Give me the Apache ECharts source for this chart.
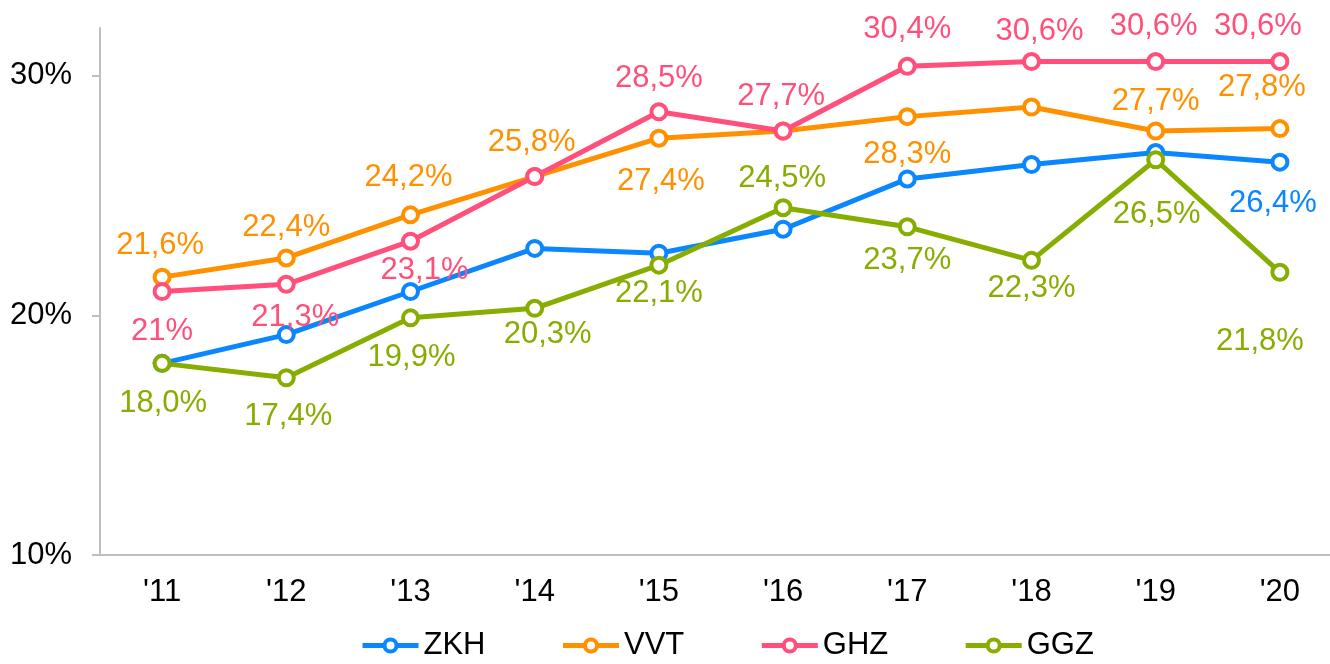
<!DOCTYPE html>
<html>
<head>
<meta charset="utf-8">
<script src="https://cdn.jsdelivr.net/npm/echarts@6/dist/echarts.min.js"></script>
<style>
  html, body { margin: 0; padding: 0; background: #fff; overflow: hidden; }
  #chart { width: 1342px; height: 664px; }
</style>
</head>
<body>
<div id="chart"></div>
<script>
const years = ["'11", "'12", "'13", "'14", "'15", "'16", "'17", "'18", "'19", "'20"]
const zkh = [18.0, 19.2, 21.0, 22.8, 22.6, 23.6, 25.7, 26.3, 26.8, 26.4]
const vvt = [21.6, 22.4, 24.2, 25.8, 27.4, 27.7, 28.3, 28.7, 27.7, 27.8]
const ghz = [21.0, 21.3, 23.1, 25.8, 28.5, 27.7, 30.4, 30.6, 30.6, 30.6]
const ggz = [18.0, 17.4, 19.9, 20.3, 22.1, 24.5, 23.7, 22.3, 26.5, 21.8]
const yTicks = [10, 20, 30]

// where each value label sits relative to its point (null = no label)
const zkhLabels = [null, null, null, null, null, null, null, null, null, [-7, 41]]
const vvtLabels = [[-2, -32], [0, -31], [-2, -37], [-3, -34], [2, 43], null, [0, 38], null, [0, -30], [-18, -41]]
const ghzLabels = [[0, 40], [9, 33], [14, 29], null, [0, -33], [-2, -35], [0, -37], [8, -30], [-2, -35], [-22, -35]]
const ggzLabels = [[1, 40], [2, 39], [1, 40], [13, 26], [0, 28], [-1, -29], [0, 34], [0, 28], [1, 55], [-20, 69]]

const FONT = 'Arial, "Liberation Sans", sans-serif'

function pct(v, i, name) {
  if (name === 'GHZ' && i === 0) return '21%'
  return v.toFixed(1).replace('.', ',') + '%'
}

function makeSeries(name, values, labels, color) {
  return {
    name: name,
    type: 'line',
    symbol: 'circle',
    symbolSize: 15,
    lineStyle: { width: 5, color: color },
    itemStyle: { color: '#fff', borderColor: color, borderWidth: 4 },
    emphasis: { disabled: true },
    data: values.map((v, i) => ({
      value: v,
      label: labels[i]
        ? {
            show: true,
            position: 'inside',
            offset: labels[i],
            formatter: pct(v, i, name),
            color: color,
            fontSize: 31,
            fontFamily: FONT,
          }
        : { show: false },
    })),
  }
}

const chart = echarts.init(document.getElementById('chart'))
chart.setOption({
  animation: false,
  backgroundColor: '#fff',
  grid: {
    left: 100,
    top: 28,
    right: 0,
    height: 527,
  },
  legend: {
    left: 360,
    top: 630,
    padding: 0,
    itemWidth: 56,
    itemHeight: 15,
    itemGap: 75,
    lineStyle: { width: 5 },
    itemStyle: { borderWidth: 4 },
    textStyle: { fontSize: 31, color: '#000', fontFamily: FONT },
    data: ['ZKH', 'VVT', 'GHZ', 'GGZ'],
  },
  xAxis: {
    type: 'category',
    data: years,
    axisLine: { lineStyle: { color: '#BFBFBF', width: 2 } },
    axisTick: { length: 9, lineStyle: { color: '#BFBFBF', width: 2 } },
    axisLabel: { margin: 22, fontSize: 31, color: '#000', fontFamily: FONT },
  },
  yAxis: {
    type: 'value',
    min: 10,
    max: 32,
    interval: 10,
    splitLine: { show: false },
    axisLine: { show: true, lineStyle: { color: '#BFBFBF', width: 2 } },
    axisTick: { show: true, length: 8, customValues: yTicks, lineStyle: { color: '#BFBFBF', width: 2 } },
    axisLabel: {
      customValues: yTicks,
      margin: 28,
      fontSize: 31,
      color: '#000',
      fontFamily: FONT,
      formatter: (v) => v + '%',
    },
  },
  series: [
    makeSeries('ZKH', zkh, zkhLabels, '#0A86FF'),
    makeSeries('VVT', vvt, vvtLabels, '#FF9000'),
    makeSeries('GHZ', ghz, ghzLabels, '#FF4F7A'),
    makeSeries('GGZ', ggz, ggzLabels, '#86AD00'),
  ],
})
</script>
</body>
</html>
